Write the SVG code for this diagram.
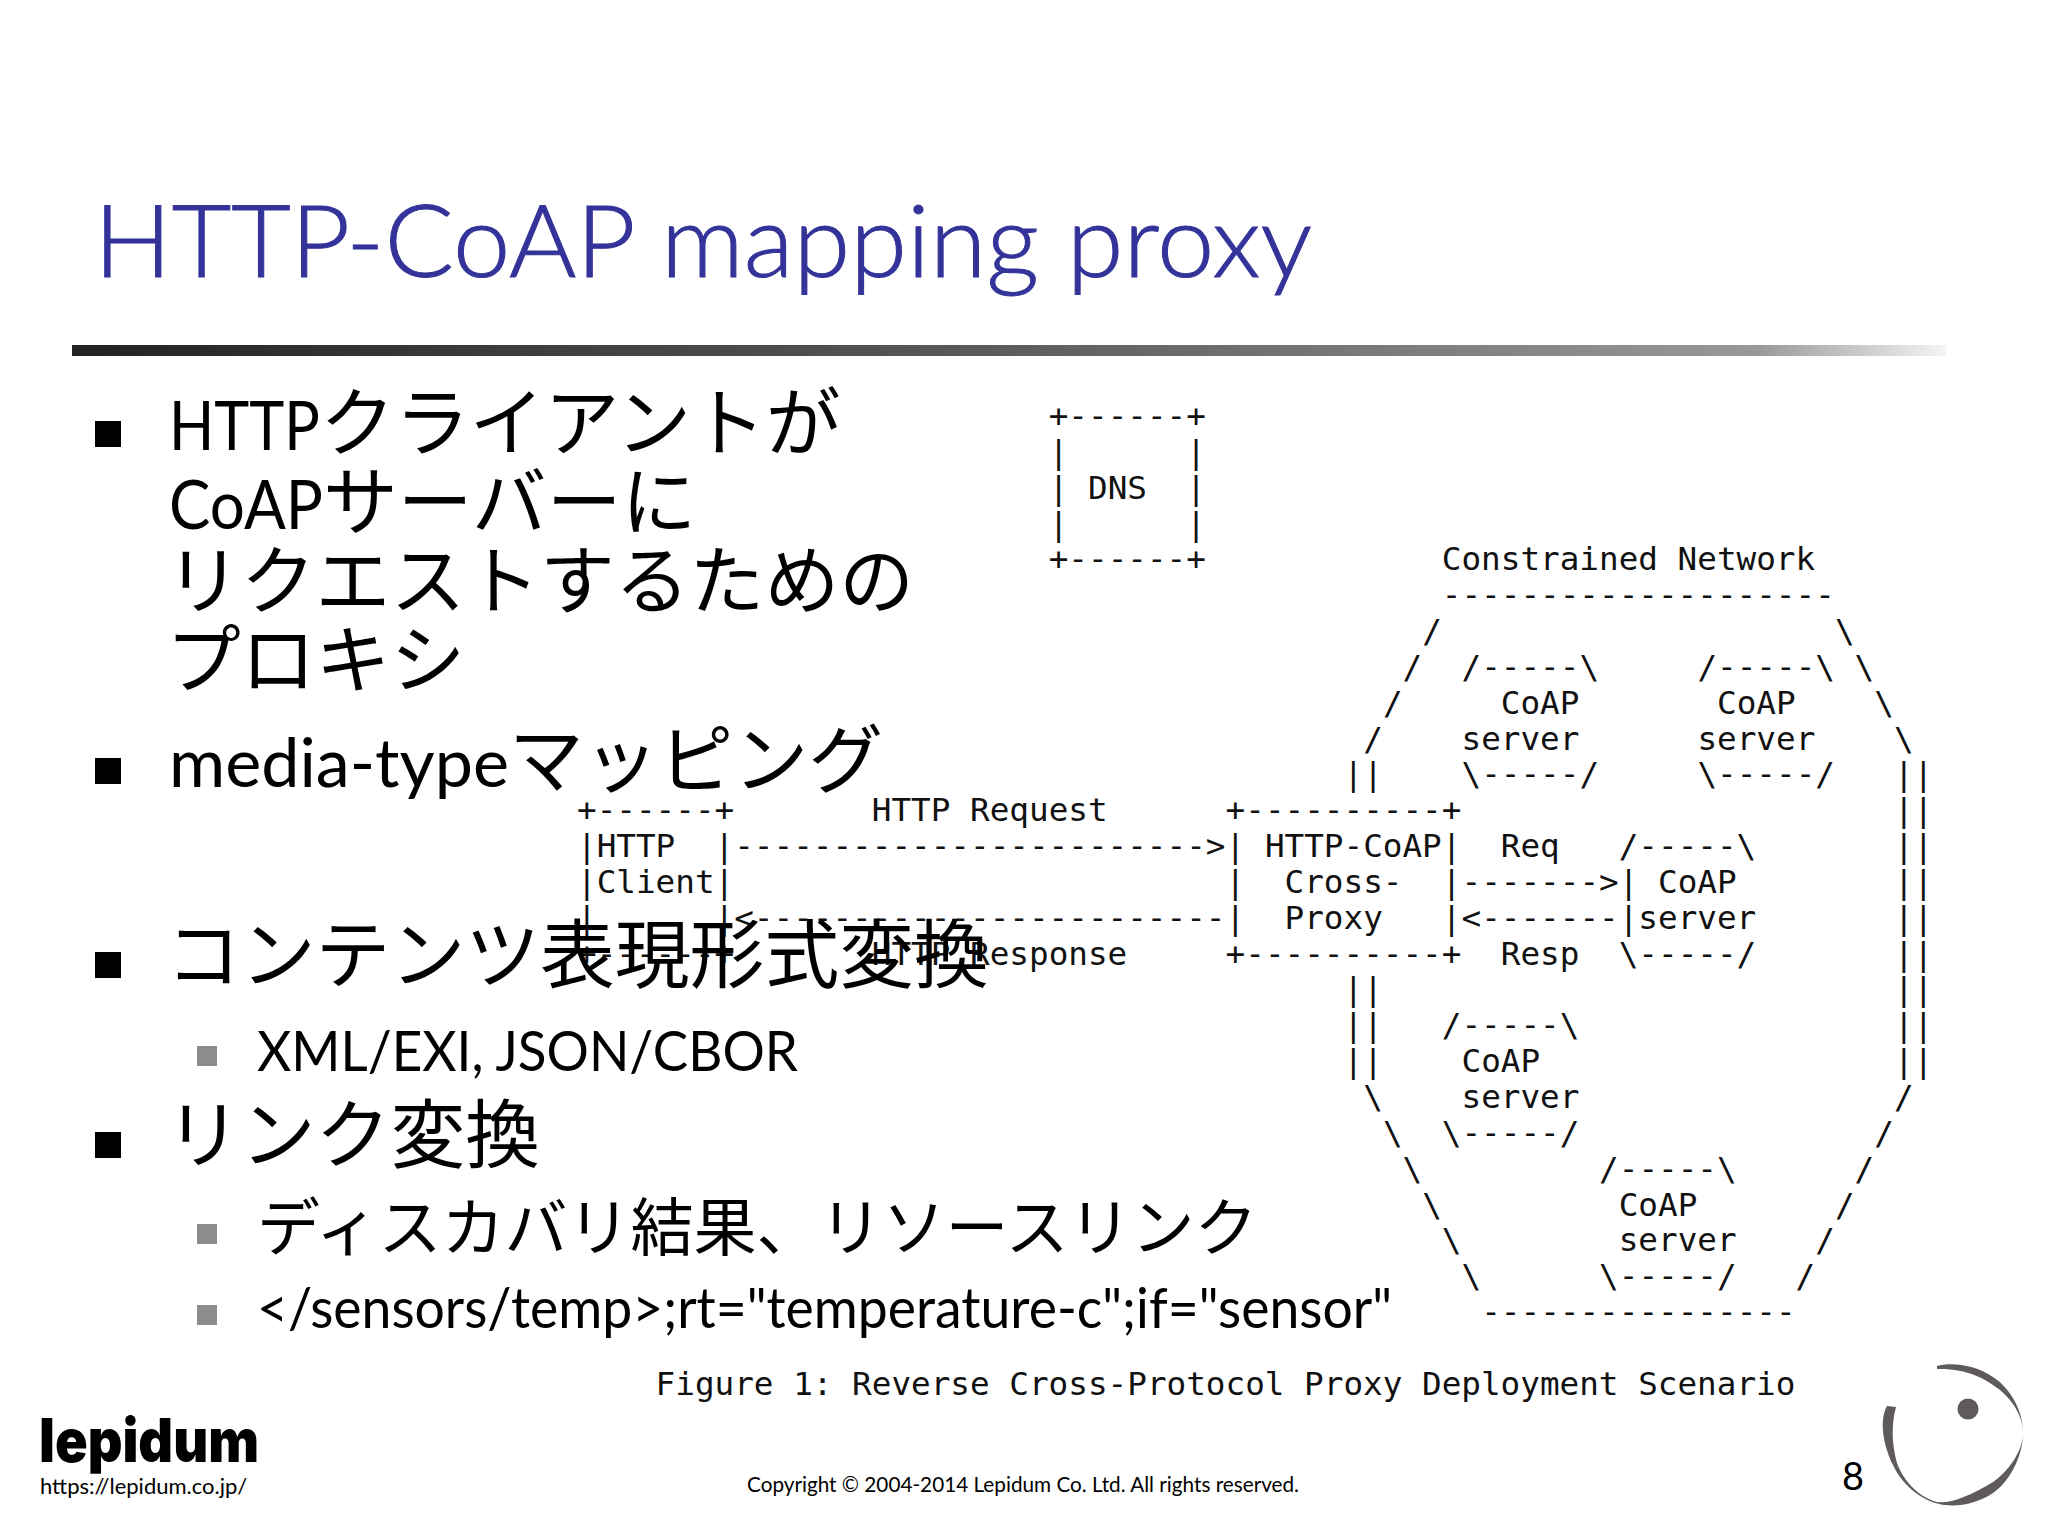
<svg xmlns="http://www.w3.org/2000/svg" width="2048" height="1536" viewBox="0 0 2048 1536">
<style>
.a{font-family:"DejaVu Sans Mono","Liberation Mono",monospace;font-size:32.65px;fill:#111;white-space:pre}
.t{font-family:"Noto Sans CJK JP",sans-serif;font-size:74.8px;fill:#000;white-space:pre}
.s{font-family:"Noto Sans CJK JP",sans-serif;font-size:63px;fill:#000}
.l{font-family:Lato,"Noto Sans CJK JP",sans-serif;font-size:68px}
.m{font-family:Lato,sans-serif;font-size:57px;fill:#000}
.b{fill:#000}
.g{fill:#8c8c8c}
</style>
<defs>
<linearGradient id="rule" x1="0" x2="1" y1="0" y2="0">
<stop offset="0" stop-color="#222"/><stop offset="0.45" stop-color="#555"/><stop offset="0.9" stop-color="#999"/><stop offset="1" stop-color="#f4f4f4"/>
</linearGradient>
</defs>
<rect width="2048" height="1536" fill="#fff"/>
<text id="title" x="94" y="277" font-family="Lato,sans-serif" font-weight="300" font-size="100" fill="#333399" stroke="#333399" stroke-width="1" textLength="1218" lengthAdjust="spacingAndGlyphs">HTTP-CoAP mapping proxy</text>
<rect id="title-rule" x="72" y="345" width="1874" height="11" fill="url(#rule)"/>

<g id="ascii-figure" transform="translate(0 1)">
<g id="dns">
<text class="a" x="1048.7" y="426">+------+</text>
<text class="a" x="1048.7" y="461.8">|</text><text class="a" x="1186.3" y="461.8">|</text>
<text class="a" x="1048.7" y="497.7">|</text><text class="a" x="1088" y="497.7">DNS</text><text class="a" x="1186.3" y="497.7">|</text>
<text class="a" x="1048.7" y="533.5">|</text><text class="a" x="1186.3" y="533.5">|</text>
<text class="a" x="1048.7" y="569.4">+------+</text>
</g>
<g id="http-client">
<text class="a" x="577" y="820.2">+------+</text>
<text class="a" x="577" y="856.1">|HTTP  |</text>
<text class="a" x="577" y="891.9">|Client|</text>
<text class="a" x="577" y="927.8">|      |</text>
<text class="a" x="577" y="963.6">+------+</text>
</g>
<g id="proxy">
<text class="a" x="1225.6" y="820.2">+----------+</text>
<text class="a" x="1225.6" y="856.1">| HTTP-CoAP|</text>
<text class="a" x="1225.6" y="891.9">|  Cross-  |</text>
<text class="a" x="1225.6" y="927.8">|  Proxy   |</text>
<text class="a" x="1225.6" y="963.6">+----------+</text>
</g>
<g id="coap-server-1">
<text class="a" x="1461.5" y="676.9">/-----\</text>
<text class="a" x="1500.8" y="712.7">CoAP</text>
<text class="a" x="1461.5" y="748.6">server</text>
<text class="a" x="1461.5" y="784.4">\-----/</text>
</g>
<g id="coap-server-2">
<text class="a" x="1697.4" y="676.9">/-----\</text>
<text class="a" x="1717" y="712.7">CoAP</text>
<text class="a" x="1697.4" y="748.6">server</text>
<text class="a" x="1697.4" y="784.4">\-----/</text>
</g>
<g id="coap-server-3">
<text class="a" x="1618.7" y="856.1">/-----\</text>
<text class="a" x="1618.7" y="891.9">| CoAP</text>
<text class="a" x="1618.7" y="927.8">|server</text>
<text class="a" x="1618.7" y="963.6">\-----/</text>
</g>
<g id="coap-server-4">
<text class="a" x="1441.8" y="1035.3">/-----\</text>
<text class="a" x="1461.5" y="1071.1">CoAP</text>
<text class="a" x="1461.5" y="1107">server</text>
<text class="a" x="1441.8" y="1142.8">\-----/</text>
</g>
<g id="coap-server-5">
<text class="a" x="1599.1" y="1178.6">/-----\</text>
<text class="a" x="1618.7" y="1214.5">CoAP</text>
<text class="a" x="1618.7" y="1250.3">server</text>
<text class="a" x="1599.1" y="1286.2">\-----/</text>
</g>
<g id="constrained-network">
<text class="a" x="1441.8" y="569.4">Constrained Network</text>
<text class="a" x="1441.8" y="605.2">--------------------</text>
<text class="a" x="1422.2" y="641">/</text><text class="a" x="1835" y="641">\</text>
<text class="a" x="1402.5" y="676.9">/</text><text class="a" x="1854.6" y="676.9">\</text>
<text class="a" x="1382.9" y="712.7">/</text><text class="a" x="1874.3" y="712.7">\</text>
<text class="a" x="1363.2" y="748.6">/</text><text class="a" x="1893.9" y="748.6">\</text>
<text class="a" x="1343.5" y="784.4">||</text><text class="a" x="1893.9" y="784.4">||</text>
<text class="a" x="1893.9" y="820.2">||</text>
<text class="a" x="1893.9" y="856.1">||</text>
<text class="a" x="1893.9" y="891.9">||</text>
<text class="a" x="1893.9" y="927.8">||</text>
<text class="a" x="1893.9" y="963.6">||</text>
<text class="a" x="1343.5" y="999.4">||</text><text class="a" x="1893.9" y="999.4">||</text>
<text class="a" x="1343.5" y="1035.3">||</text><text class="a" x="1893.9" y="1035.3">||</text>
<text class="a" x="1343.5" y="1071.1">||</text><text class="a" x="1893.9" y="1071.1">||</text>
<text class="a" x="1363.2" y="1107">\</text><text class="a" x="1893.9" y="1107">/</text>
<text class="a" x="1382.9" y="1142.8">\</text><text class="a" x="1874.3" y="1142.8">/</text>
<text class="a" x="1402.5" y="1178.6">\</text><text class="a" x="1854.6" y="1178.6">/</text>
<text class="a" x="1422.2" y="1214.5">\</text><text class="a" x="1835" y="1214.5">/</text>
<text class="a" x="1441.8" y="1250.3">\</text><text class="a" x="1815.3" y="1250.3">/</text>
<text class="a" x="1461.5" y="1286.2">\</text><text class="a" x="1795.6" y="1286.2">/</text>
<text class="a" x="1481.2" y="1322">----------------</text>
</g>
<g id="connectors">
<text class="a" x="871.8" y="820.2">HTTP Request</text>
<text class="a" x="734.2" y="856.1">------------------------&gt;</text>
<text class="a" x="734.2" y="927.8">&lt;------------------------</text>
<text class="a" x="871.8" y="963.6">HTTP Response</text>
<text class="a" x="1500.8" y="856.1">Req</text>
<text class="a" x="1461.5" y="891.9">-------&gt;</text>
<text class="a" x="1461.5" y="927.8">&lt;-------</text>
<text class="a" x="1500.8" y="963.6">Resp</text>
</g>
<text class="a" x="655.6" y="1393.7">Figure 1: Reverse Cross-Protocol Proxy Deployment Scenario</text>
</g>

<g id="bullets">
<rect class="b" x="95" y="421" width="26" height="26"/>
<text class="t" x="169" y="450"><tspan class="l" textLength="151" lengthAdjust="spacingAndGlyphs">HTTP</tspan>クライアントが</text>
<text class="t" x="169" y="529"><tspan class="l" textLength="154" lengthAdjust="spacingAndGlyphs">CoAP</tspan>サーバーに</text>
<text class="t" x="166" y="608">リクエストするための</text>
<text class="t" x="166" y="687">プロキシ</text>
<rect class="b" x="95" y="758" width="26" height="26"/>
<text class="t" x="169" y="787"><tspan class="l" textLength="340" lengthAdjust="spacingAndGlyphs">media-type</tspan>マッピング</text>
<rect class="b" x="95" y="952" width="26" height="26"/>
<text class="t" x="166" y="982">コンテンツ表現形式変換</text>
<rect class="g" x="197" y="1046" width="20" height="20"/>
<text class="m" x="257" y="1071" textLength="541" lengthAdjust="spacingAndGlyphs">XML/EXI, JSON/CBOR</text>
<rect class="b" x="95" y="1132" width="26" height="26"/>
<text class="t" x="166" y="1162">リンク変換</text>
<rect class="g" x="197" y="1224" width="20" height="20"/>
<text class="s" x="257" y="1250">ディスカバリ結果、リソースリンク</text>
<rect class="g" x="197" y="1305" width="20" height="20"/>
<text class="m" x="257" y="1328" textLength="1135" lengthAdjust="spacingAndGlyphs">&lt;/sensors/temp&gt;;rt="temperature-c";if="sensor"</text>
</g>

<g id="footer">
<text x="39" y="1462" font-family="Inter,sans-serif" font-weight="900" font-size="60" fill="#000" textLength="220" lengthAdjust="spacingAndGlyphs">lepidum</text>
<text x="40" y="1494" font-family="Lato,sans-serif" font-size="22" fill="#000">https://lepidum.co.jp/</text>
<text x="747" y="1492" font-family="Lato,sans-serif" font-size="22" fill="#000" textLength="552" lengthAdjust="spacingAndGlyphs">Copyright © 2004-2014 Lepidum Co. Ltd. All rights reserved.</text>
<text x="1842" y="1490" font-family="Lato,sans-serif" font-size="38" fill="#000">8</text>
<g id="logo-mark" fill="#5f5a5e">
<circle cx="1968" cy="1409" r="10.5"/>
<path d="M1937 1366C1950 1362 1975 1364 1993 1377C2010 1388 2023 1410 2023 1433C2023 1458 2008 1483 1993 1493C1978 1503 1960 1507 1945 1505C1925 1503 1903 1487 1893 1465C1883 1445 1879 1420 1887 1406L1896 1407C1891 1425 1892 1445 1897 1463C1903 1480 1918 1497 1937 1502C1950 1504 1970 1496 1993 1482C2010 1470 2023 1450 2023 1433C2023 1418 2015 1403 2000 1390C1985 1378 1965 1368 1937 1369Z"/>
</g>
</g>
</svg>
